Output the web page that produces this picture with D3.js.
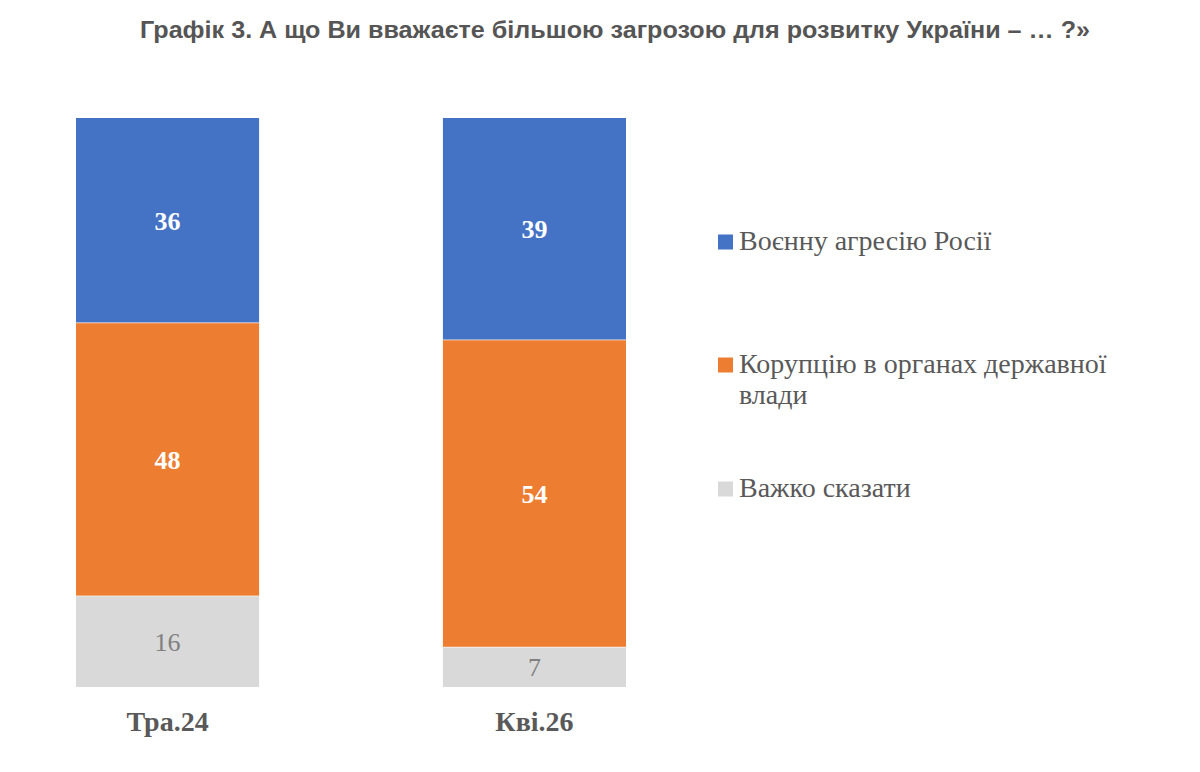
<!DOCTYPE html>
<html>
<head>
<meta charset="utf-8">
<script src="https://cdn.jsdelivr.net/npm/d3@7"></script>
<style>
  body { margin: 0; background: #fff; }
  svg { display: block; }
</style>
</head>
<body>
<svg width="1200" height="772"></svg>
<script>
// periods and answer shares (%)
var periods = ["Тра.24", "Кві.26"];
var keys = ["war", "corruption", "hard"];
var warVals = [36, 39];
var corruptionVals = [48, 54];
var hardVals = [16, 7];
var legendLabels = [["Воєнну агресію Росії"], ["Корупцію в органах державної", "влади"], ["Важко сказати"]];
var colors = ["#4472C4", "#ED7D31", "#D9D9D9"];

var svg = d3.select("svg"),
  serif = "'Liberation Serif', 'Times New Roman', serif",
  sans = "'Liberation Sans', Arial, sans-serif",
  textGray = "#595959";

// title
svg.append("text")
  .attr("x", 615).attr("y", 38)
  .attr("text-anchor", "middle")
  .attr("font-family", sans)
  .attr("font-weight", "bold")
  .attr("font-size", 23)
  .attr("fill", "#555555")
  .attr("textLength", 950)
  .attr("lengthAdjust", "spacingAndGlyphs")
  .text("Графік 3. А що Ви вважаєте більшою загрозою для розвитку України – … ?»");

var rows = periods.map(function(p, i) {
  return {period: p, war: warVals[i], corruption: corruptionVals[i], hard: hardVals[i]};
});

var x = d3.scaleBand().domain(periods).range([76, 626]).paddingInner(0.501).paddingOuter(0);
var y = d3.scaleLinear().domain([0, 100]).range([118, 687]);
var color = d3.scaleOrdinal().domain(keys).range(colors);

var series = d3.stack().keys(keys)(rows);

var groups = svg.selectAll("g.series")
  .data(series)
  .enter().append("g")
  .attr("class", "series")
  .attr("fill", function(d) { return color(d.key); });

groups.selectAll("rect")
  .data(function(d) { return d; })
  .enter().append("rect")
  .attr("x", function(d) { return x(d.data.period); })
  .attr("y", function(d) { return y(d[0]); })
  .attr("width", x.bandwidth())
  .attr("height", function(d) { return y(d[1]) - y(d[0]); });

// thin white separators between segments
series.slice(1).forEach(function(s) {
  s.forEach(function(d) {
    svg.append("line")
      .attr("x1", x(d.data.period)).attr("x2", x(d.data.period) + x.bandwidth())
      .attr("y1", y(d[0])).attr("y2", y(d[0]))
      .attr("stroke", "#fff").attr("stroke-opacity", 0.6).attr("stroke-width", 1);
  });
});

// value labels
series.forEach(function(s) {
  var isHard = s.key === "hard";
  svg.selectAll(null)
    .data(s)
    .enter().append("text")
    .attr("x", function(d) { return x(d.data.period) + x.bandwidth() / 2; })
    .attr("y", function(d) { return (y(d[0]) + y(d[1])) / 2; })
    .attr("dy", "0.35em")
    .attr("text-anchor", "middle")
    .attr("font-family", serif)
    .attr("font-size", 26)
    .attr("font-weight", isHard ? "normal" : "bold")
    .attr("fill", isHard ? "#808080" : "#fff")
    .text(function(d) { return d[1] - d[0]; });
});

// category axis (no line, no ticks)
var xAxis = svg.append("g")
  .attr("transform", "translate(0,687)")
  .call(d3.axisBottom(x).tickSize(0).tickPadding(24));
xAxis.select(".domain").remove();
xAxis.selectAll("text")
  .attr("dy", "0.71em")
  .attr("font-family", serif)
  .attr("font-size", 28)
  .attr("font-weight", "bold")
  .attr("fill", textGray);

// legend
var legendY = [242, 365, 489];
var legend = svg.selectAll("g.legend")
  .data(keys)
  .enter().append("g")
  .attr("class", "legend")
  .attr("transform", function(d, i) { return "translate(718," + legendY[i] + ")"; });

legend.append("rect")
  .attr("x", 0).attr("y", -7.5)
  .attr("width", 15).attr("height", 15)
  .attr("fill", function(d) { return color(d); });

legend.append("text")
  .attr("x", 21)
  .attr("y", 8)
  .attr("font-family", serif)
  .attr("font-size", 28)
  .attr("fill", textGray)
  .selectAll("tspan")
  .data(function(d, i) { return legendLabels[i]; })
  .enter().append("tspan")
  .attr("x", 21)
  .attr("dy", function(d, j) { return j ? 31 : 0; })
  .text(function(d) { return d; });
</script>
</body>
</html>
